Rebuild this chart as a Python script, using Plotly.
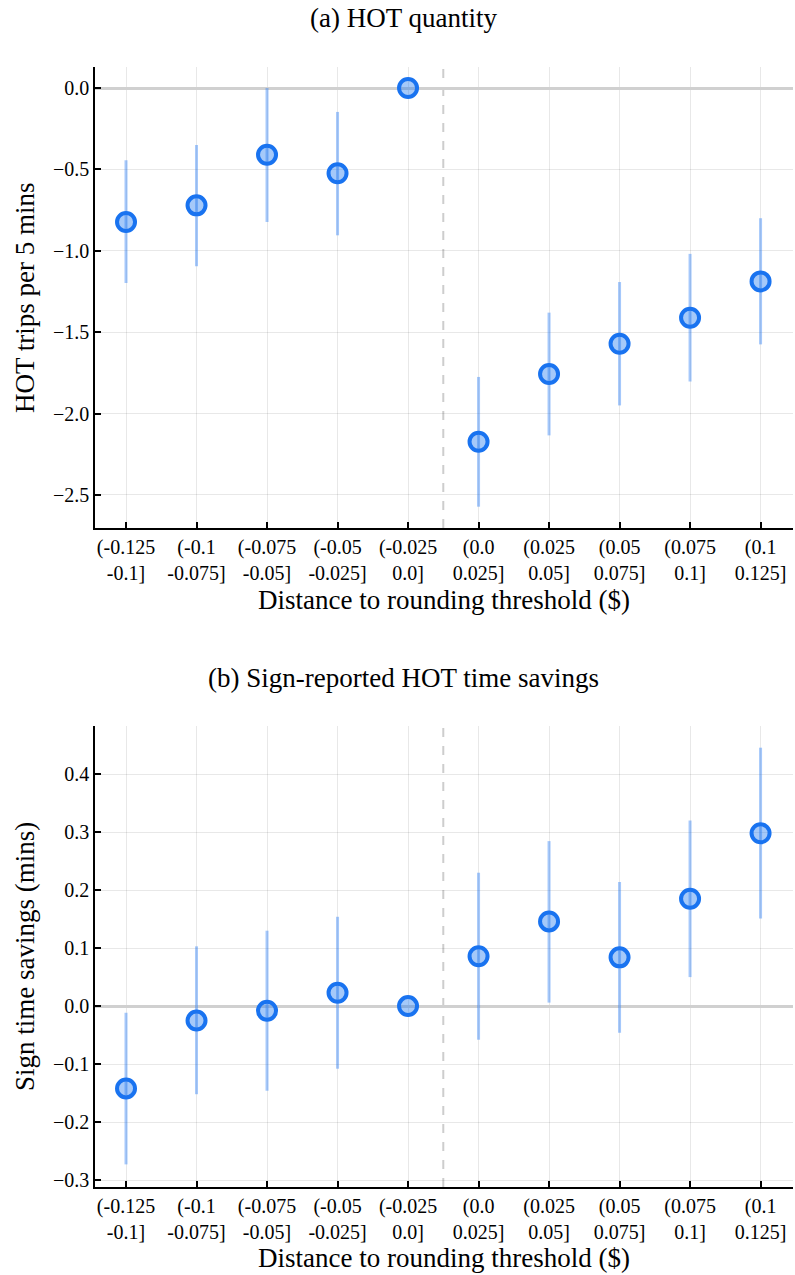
import plotly.graph_objects as go

# ---- data ----
bins = [
    "(-0.125<br>-0.1]", "(-0.1<br>-0.075]", "(-0.075<br>-0.05]", "(-0.05<br>-0.025]",
    "(-0.025<br>0.0]", "(0.0<br>0.025]", "(0.025<br>0.05]", "(0.05<br>0.075]",
    "(0.075<br>0.1]", "(0.1<br>0.125]",
]
hot_est = [-0.823, -0.721, -0.41, -0.524, 0.0, -2.173, -1.757, -1.571, -1.411, -1.188]
hot_lo = [-1.198, -1.095, -0.823, -0.905, 0.0, -2.572, -2.134, -1.95, -1.803, -1.575]
hot_hi = [-0.444, -0.35, 0.0, -0.147, 0.0, -1.775, -1.38, -1.192, -1.019, -0.80]

sign_est = [-0.142, -0.025, -0.008, 0.023, 0.0, 0.086, 0.146, 0.084, 0.185, 0.298]
sign_lo = [-0.273, -0.152, -0.146, -0.108, 0.0, -0.058, 0.006, -0.046, 0.050, 0.151]
sign_hi = [-0.0115, 0.103, 0.130, 0.154, 0.0, 0.230, 0.2845, 0.214, 0.320, 0.4456]

hot_ticks = [0.0, -0.5, -1.0, -1.5, -2.0, -2.5]
sign_ticks = [0.4, 0.3, 0.2, 0.1, 0.0, -0.1, -0.2, -0.3]

W, H = 795, 1275
FONT = "Liberation Serif"
LINE = "rgb(25,115,240)"
FILL = "rgba(30,120,240,0.40)"
ERR = "rgba(40,125,245,0.42)"
TICK_SIZE = 20
TITLE_SIZE = 27

xpos = list(range(len(bins)))

fig = go.Figure()


def add_panel(est, lo, hi, xa, ya):
    plus = [h - e for h, e in zip(hi, est)]
    minus = [e - l for e, l in zip(est, lo)]
    fig.add_trace(go.Scatter(
        x=xpos, y=est, mode="markers", xaxis=xa, yaxis=ya, showlegend=False,
        marker=dict(size=18, color=FILL, line=dict(color=LINE, width=4)),
        error_y=dict(type="data", symmetric=False, array=plus, arrayminus=minus,
                     color=ERR, thickness=3, width=0),
    ))


add_panel(hot_est, hot_lo, hot_hi, "x", "y")
add_panel(sign_est, sign_lo, sign_hi, "x2", "y2")

xdom = [95 / W, 793 / W]
top_dom = [1 - 528 / H, 1 - 67 / H]
bot_dom = [1 - 1187 / H, 1 - 726 / H]

xcommon = dict(
    domain=xdom, range=[-0.44, 9.46], tickmode="array", tickvals=xpos, ticktext=bins,
    ticks="inside", ticklen=6, tickcolor="black", tickwidth=1.5,
    showline=True, linecolor="black", linewidth=1.5, mirror=False,
    showgrid=True, gridcolor="rgba(0,0,0,0.09)", gridwidth=1, zeroline=False,
    tickfont=dict(family=FONT, size=TICK_SIZE, color="black"), automargin=False,
)
ycommon = dict(
    ticks="inside", ticklen=6, tickcolor="black", tickwidth=1.5,
    showline=True, linecolor="black", linewidth=1.5, mirror=False,
    showgrid=True, gridcolor="rgba(0,0,0,0.09)", gridwidth=1,
    zeroline=True, zerolinecolor="rgb(208,208,208)", zerolinewidth=2.5,
    tickfont=dict(family=FONT, size=TICK_SIZE, color="black"), automargin=False,
    tickformat=".1f", tickmode="array",
)

fig.update_layout(
    width=W, height=H, margin=dict(l=0, r=0, t=0, b=0),
    paper_bgcolor="white", plot_bgcolor="white",
    font=dict(family=FONT, color="black"),
    xaxis=dict(**xcommon, anchor="y"),
    yaxis=dict(**ycommon, domain=top_dom, range=[-2.703, 0.129], tickvals=hot_ticks, anchor="x"),
    xaxis2=dict(**xcommon, anchor="y2"),
    yaxis2=dict(**ycommon, domain=bot_dom, range=[-0.312, 0.483], tickvals=sign_ticks, anchor="x2"),
)

for xr, yr in (("x", "y domain"), ("x2", "y2 domain")):
    fig.add_shape(type="line", xref=xr, yref=yr, x0=4.5, x1=4.5, y0=0, y1=1,
                  line=dict(color="rgb(205,205,205)", width=2, dash="dash"), layer="below")

ann = [
    ("(a) HOT quantity", 403 / W, 1 - 18 / H, 0),
    ("Distance to rounding threshold ($)", 444 / W, 1 - 600 / H, 0),
    ("HOT trips per 5 mins", 25 / W, 1 - 298 / H, -90),
    ("(b) Sign-reported HOT time savings", 403 / W, 1 - 678 / H, 0),
    ("Distance to rounding threshold ($)", 444 / W, 1 - 1258 / H, 0),
    ("Sign time savings (mins)", 25 / W, 1 - 957 / H, -90),
]
for text, x, y, ang in ann:
    fig.add_annotation(text=text, x=x, y=y, xref="paper", yref="paper",
                       xanchor="center", yanchor="middle", showarrow=False,
                       textangle=ang, font=dict(family=FONT, size=TITLE_SIZE, color="black"))

fig.write_html("out.html", config={"displayModeBar": False},
               post_script="document.body.style.margin='0';document.body.style.overflow='hidden';")
